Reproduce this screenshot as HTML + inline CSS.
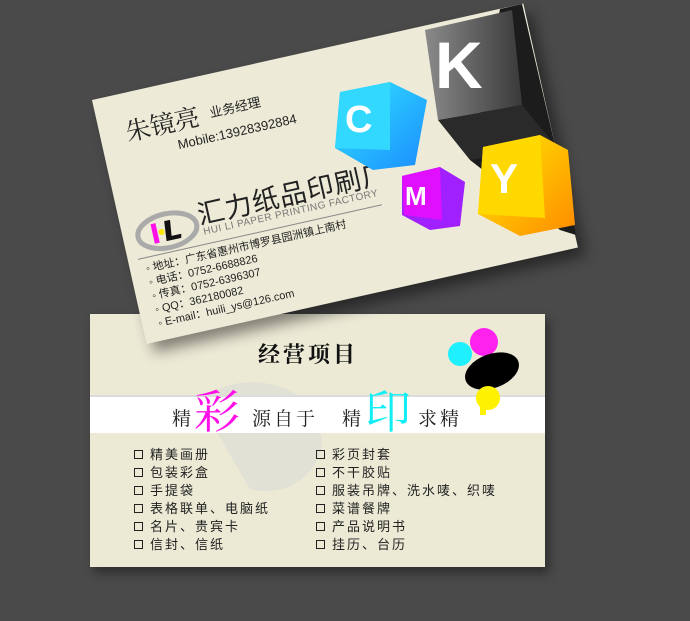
<!DOCTYPE html>
<html><head><meta charset="utf-8"><style>
html,body{margin:0;padding:0}
body{width:690px;height:621px;background:#4a4a4a;position:relative;overflow:hidden;font-family:"Liberation Sans","Noto Sans CJK SC",sans-serif}
.abs{position:absolute;white-space:nowrap}
#card1{position:absolute;left:92px;top:100px;width:442px;height:250px;transform-origin:0 0;transform:rotate(-12.6deg);background:#edebd7;box-shadow:6px 10px 14px rgba(0,0,0,0.45)}
#card2{position:absolute;left:90px;top:314px;width:455px;height:253px;background:#ecead5;box-shadow:4px 6px 10px rgba(0,0,0,0.4)}
.li{position:absolute;font-size:13px;color:#222;letter-spacing:2px;font-family:"Liberation Sans","Noto Sans CJK SC",sans-serif}
.li:before{content:"";display:inline-block;width:7px;height:7px;border:1px solid #222;margin-right:7px;vertical-align:0px}
</style></head><body>
<div id="card2">
  <svg width="455" height="253" style="position:absolute;left:0;top:0">
    <path d="M110 90 C140 50 230 70 220 110 C250 120 220 190 160 175 Z" fill="#d8d8d8" opacity="0.45"/>
    <rect x="0" y="83" width="455" height="36" fill="#fff"/>
    <rect x="0" y="81" width="455" height="2" fill="#dcdcdc"/>
    <circle cx="370" cy="40" r="12" fill="#1ef0ff"/>
    <circle cx="394" cy="28" r="14" fill="#ff22ee"/>
    <ellipse cx="402" cy="57" rx="28" ry="17" fill="#000" transform="rotate(-20 402 57)"/>
    <circle cx="398" cy="84" r="12" fill="#fff200"/>
    <rect x="390" y="86" width="6" height="15" fill="#fff200"/>
  </svg>
  <div class="abs" style="left:168px;top:24px;font-size:22px;font-weight:bold;letter-spacing:3px;font-family:'Noto Serif CJK SC',serif;color:#111">经营项目</div>
  <div class="abs" style="left:82px;top:62px;height:60px;font-size:19px;color:#222;font-family:'Noto Serif CJK SC',serif">
    <span style="position:absolute;left:0;top:28px">精</span>
    <span style="position:absolute;left:22px;top:0;font-size:46px;color:#ff10e8">彩</span>
    <span style="position:absolute;left:80px;top:28px;letter-spacing:3px">源自于</span>
    <span style="position:absolute;left:170px;top:28px">精</span>
    <span style="position:absolute;left:193px;top:0;font-size:46px;color:#11eef5">印</span>
    <span style="position:absolute;left:246px;top:28px;letter-spacing:3px">求精</span>
  </div>
  <div class="li" style="left:44px;top:130px">精美画册</div>
  <div class="li" style="left:44px;top:148px">包装彩盒</div>
  <div class="li" style="left:44px;top:166px">手提袋</div>
  <div class="li" style="left:44px;top:184px">表格联单、电脑纸</div>
  <div class="li" style="left:44px;top:202px">名片、贵宾卡</div>
  <div class="li" style="left:44px;top:220px">信封、信纸</div>
  <div class="li" style="left:226px;top:130px">彩页封套</div>
  <div class="li" style="left:226px;top:148px">不干胶贴</div>
  <div class="li" style="left:226px;top:166px">服装吊牌、洗水唛、织唛</div>
  <div class="li" style="left:226px;top:184px">菜谱餐牌</div>
  <div class="li" style="left:226px;top:202px">产品说明书</div>
  <div class="li" style="left:226px;top:220px">挂历、台历</div>
</div>

<div id="card1">
  <div class="abs" style="left:26px;top:20px;font-size:25px;color:#222;font-family:'Noto Serif CJK SC',serif">朱镜亮</div>
  <div class="abs" style="left:112px;top:28px;font-size:13px;color:#222">业务经理</div>
  <div class="abs" style="left:74px;top:55px;font-size:13px;color:#222">Mobile:13928392884</div>
  <svg class="abs" style="left:12px;top:122px" width="70" height="45">
    <ellipse cx="33" cy="22" rx="30" ry="17" fill="none" stroke="#aaa" stroke-width="5"/>
    <rect x="18" y="12" width="5" height="20" fill="#ff10e8"/>
    <circle cx="27" cy="22" r="3" fill="#ffe600"/>
    <path d="M32 12 L38 12 L36 28 L46 28 L45 32 L30 32 Z" fill="#111"/>
  </svg>
  <div class="abs" style="left:78px;top:114px;font-size:27px;color:#222;letter-spacing:1px">汇力纸品印刷厂</div>
  <div class="abs" style="left:80px;top:148px;font-size:10px;color:#777;letter-spacing:0.5px">HUI LI PAPER PRINTING FACTORY</div>
  <div class="abs" style="left:10px;top:165px;width:250px;height:1px;background:#888"></div>
  <div class="abs" style="left:16px;top:170px;font-size:11px;line-height:14px;color:#222">
    <div>◦ 地址：广东省惠州市博罗县园洲镇上南村</div>
    <div>◦ 电话：0752-6688826</div>
    <div>◦ 传真：0752-6396307</div>
    <div>◦ QQ：362180082</div>
    <div>◦ E-mail：huili_ys@126.com</div>
  </div>
</div>

<svg width="690" height="621" style="position:absolute;left:0;top:0">
  <defs>
    <linearGradient id="gk" x1="0" y1="0" x2="1" y2="0"><stop offset="0" stop-color="#8a8a8a"/><stop offset="1" stop-color="#3a3a3a"/></linearGradient>
    <linearGradient id="gc" x1="0" y1="0" x2="1" y2="1"><stop offset="0" stop-color="#33e6ff"/><stop offset="1" stop-color="#1a8cff"/></linearGradient>
    <linearGradient id="gy" x1="0" y1="0" x2="1" y2="1"><stop offset="0" stop-color="#ffee00"/><stop offset="1" stop-color="#ff8a00"/></linearGradient>
  </defs>
  <polygon points="500,9 522,4 576,235 560,230 470,160" fill="#1c1c1c"/>
  <polygon points="425,30 512,10 522,105 438,120" fill="url(#gk)"/>
  <polygon points="438,120 522,105 555,145 470,160" fill="#2a2a2a"/>
  <text x="435" y="88" font-family="Liberation Sans" font-weight="bold" font-size="66" fill="#fff">K</text>
  <polygon points="340,92 390,82 427,100 415,165 373,170 335,148" fill="url(#gc)"/>
  <polygon points="340,92 390,82 390,150 335,148" fill="#33d8ff"/>
  <text x="345" y="132" font-family="Liberation Sans" font-weight="bold" font-size="38" fill="#fff">C</text>
  <polygon points="402,176 440,167 465,182 460,226 430,230 402,215" fill="#a020ff"/>
  <polygon points="402,176 440,167 442,220 404,215" fill="#e010ff"/>
  <text x="405" y="205" font-family="Liberation Sans" font-weight="bold" font-size="26" fill="#fff">M</text>
  <polygon points="483,147 540,135 568,150 575,225 520,236 478,214" fill="url(#gy)"/>
  <polygon points="483,147 540,135 545,218 478,214" fill="#ffd800"/>
  <text x="490" y="193" font-family="Liberation Sans" font-weight="bold" font-size="42" fill="#fff">Y</text>
</svg>
</body></html>
